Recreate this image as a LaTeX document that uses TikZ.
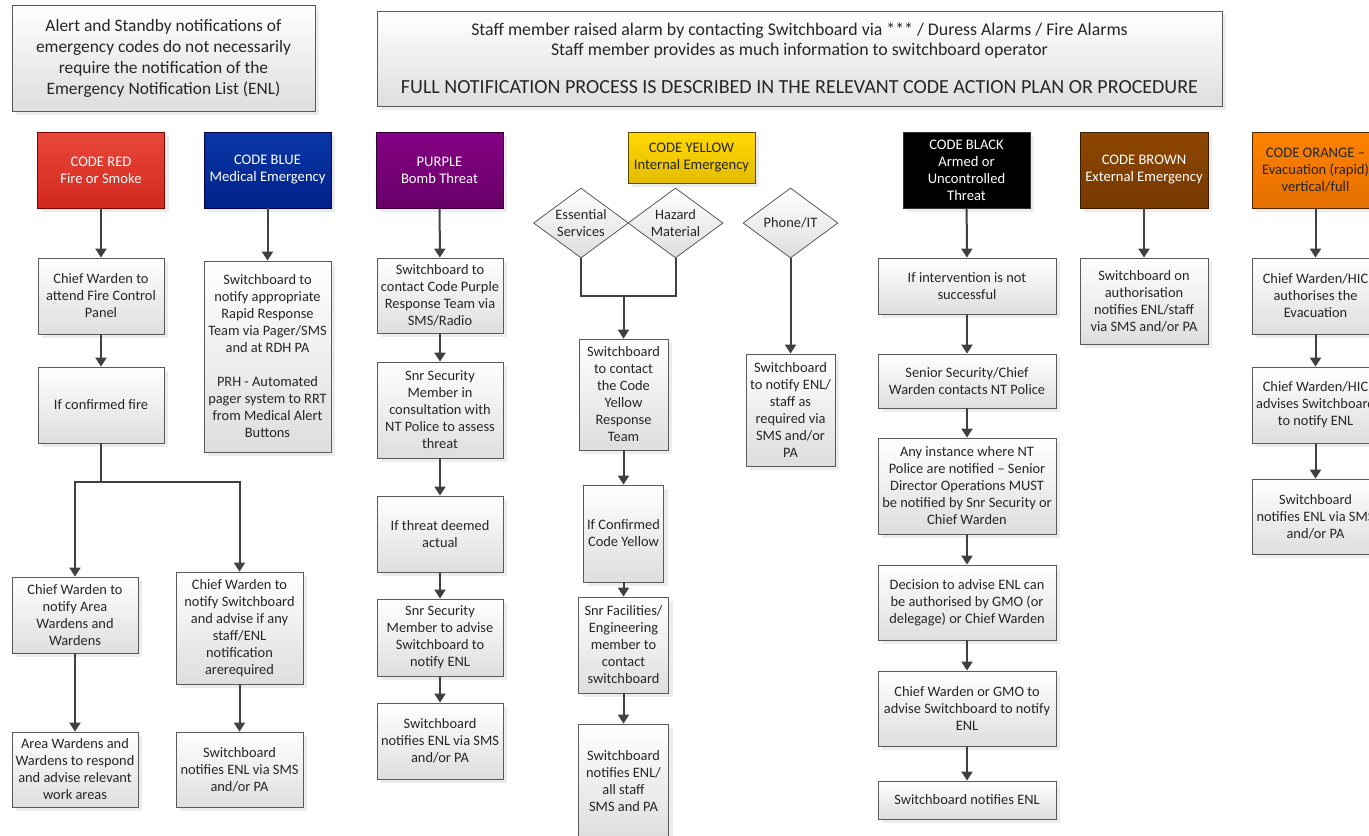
\documentclass[tikz,border=0pt]{standalone}
\usepackage{fontspec}
\setmainfont{Carlito}
\usetikzlibrary{arrows.meta,shapes.geometric,shadows}
\definecolor{linegrey}{HTML}{404040}
\definecolor{boxline}{HTML}{5A5A5A}
\definecolor{boxgrey}{HTML}{DEDEDE}
\definecolor{textgrey}{HTML}{262626}
\definecolor{redtop}{HTML}{E9473B}
\definecolor{redbot}{HTML}{D2281D}
\definecolor{bluetop}{HTML}{0A37A6}
\definecolor{bluebot}{HTML}{00228C}
\definecolor{purptop}{HTML}{850085}
\definecolor{purpbot}{HTML}{680068}
\definecolor{yeltop}{HTML}{FFD900}
\definecolor{yelbot}{HTML}{E3BC00}
\definecolor{browntop}{HTML}{8E4600}
\definecolor{brownbot}{HTML}{763900}
\definecolor{orgtop}{HTML}{FF8300}
\definecolor{orgbot}{HTML}{E46E00}

\begin{document}
\begin{tikzpicture}[->,>={Triangle[length=4.5pt,width=5.5pt]},x=0.5pt,y=-0.5pt,
                    every edge/.style={draw=linegrey,line width=1pt}]
  \tikzstyle{greybox}=[draw=boxline,top color=white,bottom color=boxgrey,
                       drop shadow={shadow xshift=2pt,shadow yshift=-2pt,opacity=0.15},
                       minimum width=63pt,inner sep=1pt,align=center,text=textgrey,
                       font=\fontsize{7.2}{8.5}\selectfont]
  \tikzstyle{codehdr}=[draw,minimum width=63.5pt,minimum height=38pt,inner sep=1pt,
                       align=center,text=white,font=\fontsize{7.3}{8.5}\selectfont,
                       drop shadow={shadow xshift=2pt,shadow yshift=-2pt,opacity=0.15}]
  \tikzstyle{choice}=[diamond,draw=boxline,top color=white,bottom color=boxgrey,
                      minimum width=47.5pt,minimum height=35pt,inner sep=-4pt,
                      align=center,text=textgrey,font=\fontsize{7.2}{8.5}\selectfont]
  \tikzstyle{conn}=[draw=linegrey,line width=1pt]

  \useasboundingbox (0,0) rectangle (1369,835);

  % notes at the top
  \node[greybox,minimum width=151.5pt,minimum height=53pt,
        font=\fontsize{8.7}{10.5}\selectfont] (alert) at (163.5,58)
        {Alert and Standby notifications of\\emergency codes do not necessarily\\require the notification of the\\Emergency Notification List (ENL)};
  \node[greybox,minimum width=422.5pt,minimum height=47.5pt,
        font=\fontsize{8.9}{10}\selectfont] (raise) at (799.5,58.5)
        {Staff member raised alarm by contacting Switchboard via *** / Duress Alarms / Fire Alarms\\
         Staff member provides as much information to switchboard operator\\[9pt]
         {\fontsize{10}{11}\selectfont FULL NOTIFICATION PROCESS IS DESCRIBED IN THE RELEVANT CODE ACTION PLAN OR PROCEDURE}};

  % code red
  \node[codehdr,top color=redtop,bottom color=redbot,draw=red!50!black] (rh) at (101,170) {CODE RED\\Fire or Smoke};
  \node[greybox,minimum height=38pt] (r1) at (101,296) {Chief Warden to\\attend Fire Control\\Panel};
  \node[greybox,minimum height=38pt] (r2) at (101,405) {If confirmed fire};
  \node[greybox,minimum height=38pt] (r3) at (75,615) {Chief Warden to\\notify Area\\Wardens and\\Wardens};
  \node[greybox,minimum height=37.5pt] (r4) at (75,769.5) {Area Wardens and\\Wardens to respond\\and advise relevant\\work areas};
  \node[greybox,minimum width=63.5pt,minimum height=56pt] (r5) at (239.5,628) {Chief Warden to\\notify Switchboard\\and advise if any\\staff/ENL\\notification\\arerequired};
  \node[greybox,minimum width=63.5pt,minimum height=37.5pt] (r6) at (239.5,769.5) {Switchboard\\notifies ENL via SMS\\and/or PA};
  \coordinate (rj) at (101,482);

  % code blue
  \node[codehdr,top color=bluetop,bottom color=bluebot,draw=blue!30!black] (bh) at (267.5,170) {CODE BLUE\\Medical Emergency};
  \node[greybox,minimum width=63.5pt,minimum height=95.5pt] (b1) at (267.5,356.5)
        {Switchboard to\\notify appropriate\\Rapid Response\\Team via Pager/SMS\\and at RDH PA\\[8.5pt]PRH - Automated\\pager system to RRT\\from Medical Alert\\Buttons};

  % purple
  \node[codehdr,top color=purptop,bottom color=purpbot,draw=purpbot!50!black] (ph) at (439.5,170) {PURPLE\\Bomb Threat};
  \node[greybox,minimum height=37.5pt] (p1) at (440,295.5) {Switchboard to\\contact Code Purple\\Response Team via\\SMS/Radio};
  \node[greybox,minimum height=48pt] (p2) at (440,410) {Snr Security\\Member in\\consultation with\\NT Police to assess\\threat};
  \node[greybox,minimum height=38pt] (p3) at (440,534) {If threat deemed\\actual};
  \node[greybox,minimum height=38.5pt] (p4) at (440,637.5) {Snr Security\\Member to advise\\Switchboard to\\notify ENL};
  \node[greybox,minimum height=38pt] (p5) at (440,741) {Switchboard\\notifies ENL via SMS\\and/or PA};

  % code yellow
  \node[codehdr,minimum height=25.5pt,top color=yeltop,bottom color=yelbot,
        draw=yelbot!40!black,text=textgrey] (yh) at (691.5,157.5) {CODE YELLOW\\Internal Emergency};
  \node[choice] (es) at (581,223) {Essential\\Services};
  \node[choice] (hz) at (675.5,223) {Hazard\\Material};
  \node[choice] (it) at (790.5,223) {Phone/IT};
  \node[greybox,minimum width=44.5pt,minimum height=55.5pt] (y1) at (623.5,394.5) {Switchboard\\to contact\\the Code\\Yellow\\Response\\Team};
  \node[greybox,minimum width=40pt,minimum height=48.5pt] (y2) at (623.5,533.5) {If Confirmed\\Code Yellow};
  \node[greybox,minimum width=45pt,minimum height=48pt] (y3) at (623.5,645) {Snr Facilities/\\Engineering\\member to\\contact\\switchboard};
  \node[greybox,minimum width=45pt,minimum height=57pt] (y4) at (623.5,781) {Switchboard\\notifies ENL/\\all staff\\SMS and PA};
  \node[greybox,minimum width=44.5pt,minimum height=56pt] (y5) at (790.5,410) {Switchboard\\to notify ENL/\\staff as\\required via\\SMS and/or\\PA};
  \coordinate (yj) at (623.5,296);

  % code black
  \node[codehdr,fill=black,draw=black!80] (kh) at (966.5,170) {CODE BLACK\\Armed or\\Uncontrolled\\Threat};
  \node[greybox,minimum width=89pt,minimum height=28pt] (k1) at (967,286) {If intervention is not\\successful};
  \node[greybox,minimum width=89pt,minimum height=27pt] (k2) at (967,381) {Senior Security/Chief\\Warden contacts NT Police};
  \node[greybox,minimum width=89pt,minimum height=48pt] (k3) at (967,486) {Any instance where NT\\Police are notified -- Senior\\Director Operations MUST\\be notified by Snr Security or\\Chief Warden};
  \node[greybox,minimum width=89pt,minimum height=37.5pt] (k4) at (967,602.5) {Decision to advise ENL can\\be authorised by GMO (or\\delegage) or Chief Warden};
  \node[greybox,minimum width=89pt,minimum height=37.5pt] (k5) at (967,708.5) {Chief Warden or GMO to\\advise Switchboard to notify\\ENL};
  \node[greybox,minimum width=89pt,minimum height=19pt] (k6) at (967,800) {Switchboard notifies ENL};

  % code brown
  \node[codehdr,minimum width=64pt,top color=browntop,bottom color=brownbot,
        draw=brownbot!50!black] (nh) at (1144,170) {CODE BROWN\\External Emergency};
  \node[greybox,minimum width=64pt,minimum height=43pt] (n1) at (1144,301) {Switchboard on\\authorisation\\notifies ENL/staff\\via SMS and/or PA};

  % code orange
  \node[codehdr,top color=orgtop,bottom color=orgbot,draw=brownbot!70!black,
        text=textgrey] (oh) at (1315.5,170) {CODE ORANGE --\\Evacuation (rapid)\\vertical/full};
  \node[greybox,minimum width=63.5pt,minimum height=38pt] (o1) at (1315.5,296) {Chief Warden/HIC\\authorises the\\Evacuation};
  \node[greybox,minimum width=63.5pt,minimum height=38pt] (o2) at (1315.5,405) {Chief Warden/HIC\\advises Switchboard\\to notify ENL};
  \node[greybox,minimum width=63.5pt,minimum height=37.5pt] (o3) at (1315.5,516.5) {Switchboard\\notifies ENL via SMS\\and/or PA};

  \path (rh) edge (r1)
        (r1) edge (r2)
        (r3) edge (r4)
        (r5) edge (r6)
        (bh) edge (b1)
        (ph) edge (p1)
        (p1) edge (p2)
        (p2) edge (p3)
        (p3) edge (p4)
        (p4) edge (p5)
        (yj) edge (y1)
        (y1) edge (y2)
        (y2) edge (y3)
        (y3) edge (y4)
        (it) edge (y5)
        (kh) edge (k1)
        (k1) edge (k2)
        (k2) edge (k3)
        (k3) edge (k4)
        (k4) edge (k5)
        (k5) edge (k6)
        (nh) edge (n1)
        (oh) edge (o1)
        (o1) edge (o2)
        (o2) edge (o3);

  \draw[conn,-] (r2) -- (rj);
  \draw[conn] (rj) -| (r3);
  \draw[conn] (rj) -| (r5);
  \draw[conn,-] (es.south) -- ++(0,38) -| (hz.south);

\end{tikzpicture}
\end{document}
